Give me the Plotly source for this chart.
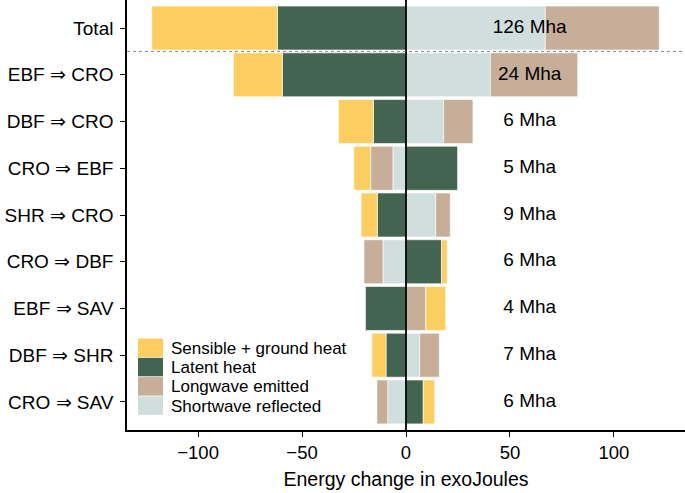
import plotly.graph_objects as go

# ---- data (categories listed bottom -> top) ----
categories = ["CRO ⇒ SAV", "DBF ⇒ SHR", "EBF ⇒ SAV", "CRO ⇒ DBF", "SHR ⇒ CRO",
              "CRO ⇒ EBF", "DBF ⇒ CRO", "EBF ⇒ CRO", "Total"]
shortwave = [-8.8, 6.6, 0.0, -11.1, 14.3, -6.3, 18.1, 40.6, 67.0]
longwave = [-5.2, 9.4, 9.5, -9.1, 7.0, -10.7, 14.1, 42.0, 54.8]
latent = [8.3, -9.6, -19.5, 17.1, -13.8, 24.8, -15.7, -59.5, -61.9]
sensible = [5.5, -6.8, 9.6, 2.7, -7.8, -8.1, -16.8, -23.5, -60.4]
area_labels = ["6 Mha", "7 Mha", "4 Mha", "6 Mha", "9 Mha", "5 Mha", "6 Mha", "24 Mha", "126 Mha"]
legend_names = ["Sensible + ground heat", "Latent heat", "Longwave emitted", "Shortwave reflected"]
x_ticks = [-100, -50, 0, 50, 100]

COL_SENS = "#FCCE62"
COL_LAT = "#446452"
COL_LW = "#C6AE99"
COL_SW = "#D1DEDE"

LABEL_X = 59.5
FONT = "Liberation Sans, Arial, sans-serif"

fig = go.Figure()
series = [(shortwave, COL_SW, legend_names[3]),
          (longwave, COL_LW, legend_names[2]),
          (latent, COL_LAT, legend_names[1]),
          (sensible, COL_SENS, legend_names[0])]
for vals, col, name in series:
    fig.add_trace(go.Bar(
        x=vals, y=categories, orientation="h", name=name,
        marker=dict(color=col, line=dict(color="white", width=0.6)),
        showlegend=False, hoverinfo="x+name"))

fig.add_trace(go.Scatter(
    x=[LABEL_X] * len(categories), y=categories, mode="text",
    text=area_labels, textposition="middle center",
    textfont=dict(family=FONT, size=19, color="black"),
    showlegend=False, hoverinfo="skip"))

# zero line and separator
fig.add_shape(type="line", xref="x", yref="paper", x0=0, x1=0, y0=0, y1=1,
              line=dict(color="black", width=1.8), layer="above")
fig.add_shape(type="line", xref="paper", yref="y", x0=0, x1=1, y0=7.5, y1=7.5,
              line=dict(color="#888888", width=1, dash="dot"), layer="above")

# manual legend
legend_cols = [COL_SENS, COL_LAT, COL_LW, COL_SW]
plot_left, plot_w, plot_bottom_px, plot_h = 127, 558, 430, 430
top = 338.5
row_h = 19.3
for i, (name, col) in enumerate(zip(legend_names, legend_cols)):
    y_top = top + i * row_h
    y_bot = y_top + row_h - 0.8
    fig.add_shape(type="rect", xref="paper", yref="paper",
                  x0=(138 - plot_left) / plot_w, x1=(163 - plot_left) / plot_w,
                  y0=(plot_bottom_px - y_bot) / plot_h, y1=(plot_bottom_px - y_top) / plot_h,
                  fillcolor=col, line=dict(width=0), layer="above")
    fig.add_annotation(xref="paper", yref="paper",
                       x=(169 - plot_left) / plot_w,
                       y=(plot_bottom_px - (y_top + row_h / 2)) / plot_h,
                       text=name, showarrow=False, xanchor="left", yanchor="middle",
                       font=dict(family=FONT, size=17, color="black"))

fig.update_layout(
    width=685, height=493,
    margin=dict(l=127, r=0, t=0, b=63),
    barmode="relative", bargap=0.06,
    plot_bgcolor="white", paper_bgcolor="white",
    font=dict(family=FONT, color="black"),
    xaxis=dict(range=[-134.2, 134.2], tickvals=x_ticks, ticks="outside", ticklen=5,
               tickcolor="black", tickwidth=1, showgrid=False, zeroline=False,
               showline=True, linecolor="black", linewidth=1.5, automargin=False,
               tickfont=dict(size=18.5, family=FONT),
               title=dict(text="Energy change in exoJoules", font=dict(size=19.5, family=FONT), standoff=10)),
    yaxis=dict(type="category", categoryorder="array", categoryarray=categories,
               range=[-0.6, 8.6], ticks="outside", ticklen=5, tickcolor="black", tickwidth=1,
               showgrid=False, zeroline=False, showline=True, linecolor="black", linewidth=1.5,
               automargin=False, ticklabelstandoff=3,
               tickfont=dict(size=19, family=FONT)),
)

fig.write_html("out.html", config={"displayModeBar": False},
               post_script="document.body.style.margin='0';document.body.style.overflow='hidden';")
